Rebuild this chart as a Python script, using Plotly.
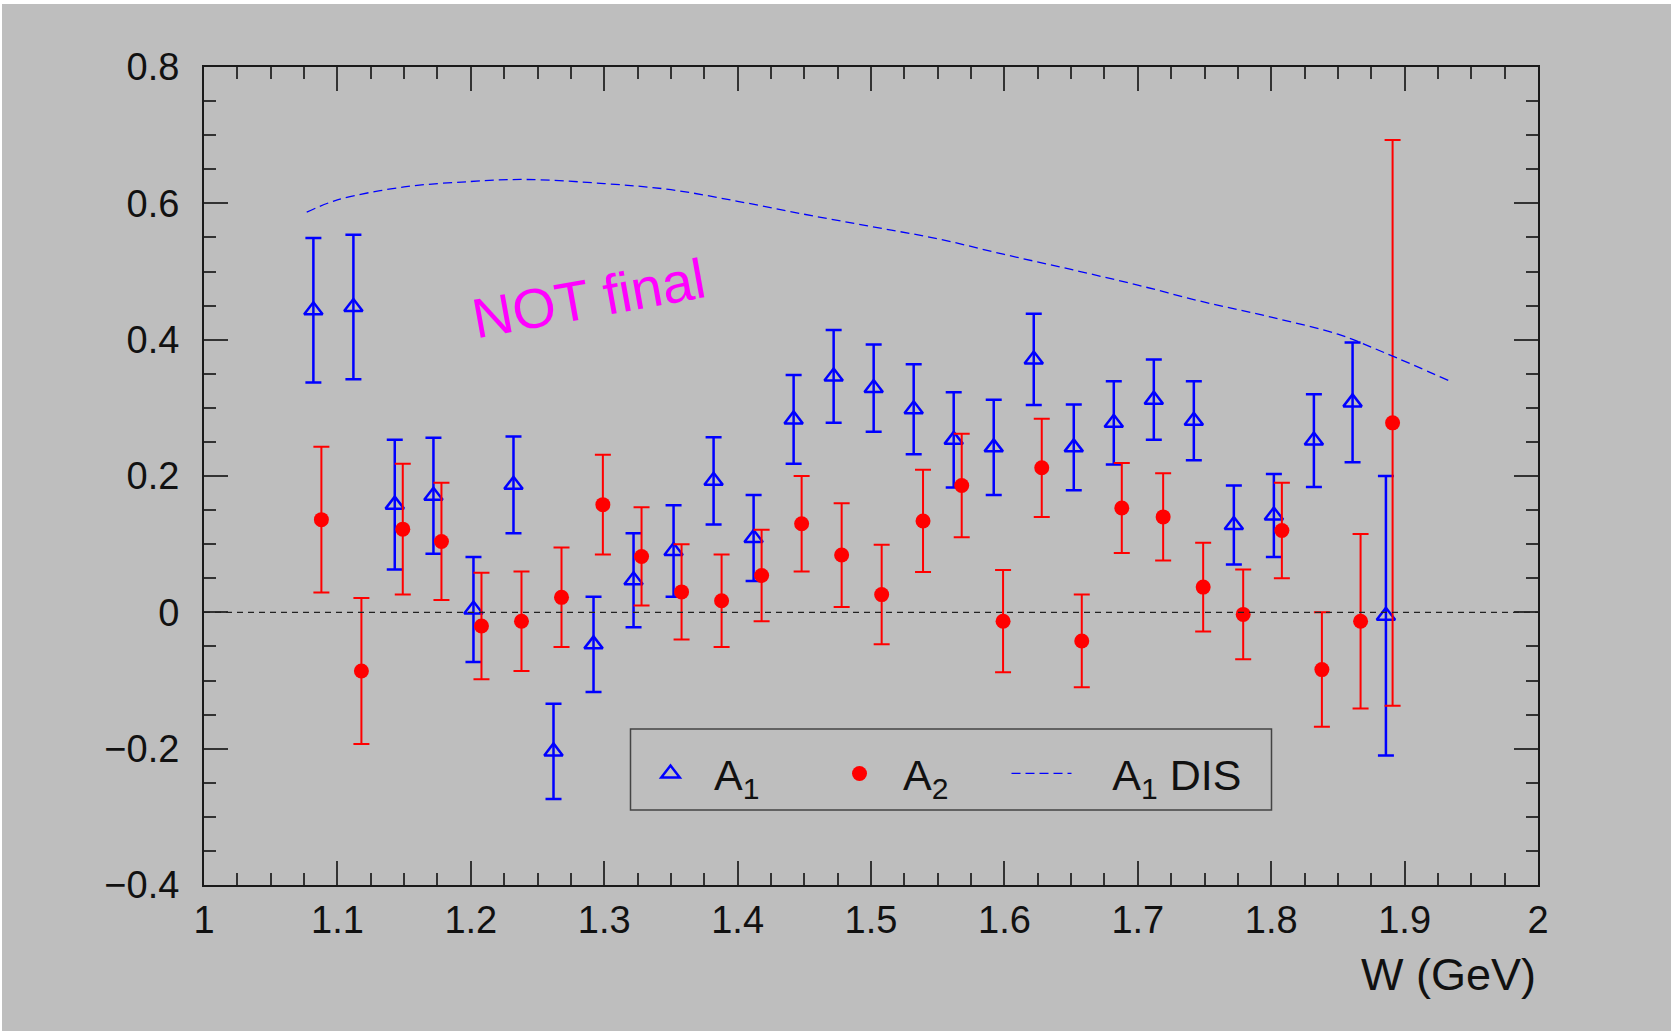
import plotly.graph_objects as go

# ---------------- data ----------------
a1_w = [1.082, 1.112, 1.143, 1.172, 1.202, 1.232, 1.262, 1.292, 1.322, 1.352,
        1.382, 1.412, 1.442, 1.472, 1.502, 1.532, 1.562, 1.592, 1.622, 1.652,
        1.682, 1.712, 1.742, 1.772, 1.802, 1.832, 1.861, 1.886]
a1_val = [0.443, 0.448, 0.158, 0.171, 0.004, 0.187, -0.204, -0.047, 0.047, 0.090,
          0.193, 0.109, 0.283, 0.346, 0.329, 0.298, 0.253, 0.242, 0.371, 0.242,
          0.278, 0.312, 0.281, 0.128, 0.142, 0.252, 0.308, -0.005]
a1_err = [0.106, 0.106, 0.095, 0.085, 0.077, 0.071, 0.070, 0.070, 0.069, 0.067,
          0.064, 0.063, 0.065, 0.068, 0.064, 0.066, 0.070, 0.070, 0.067, 0.063,
          0.061, 0.059, 0.058, 0.058, 0.061, 0.068, 0.088, 0.205]

a2_w = [1.088, 1.118, 1.149, 1.178, 1.208, 1.238, 1.268, 1.299, 1.328, 1.358,
        1.388, 1.418, 1.448, 1.478, 1.508, 1.539, 1.568, 1.599, 1.628, 1.658,
        1.688, 1.719, 1.749, 1.779, 1.808, 1.838, 1.867, 1.891]
a2_val = [0.136, -0.086, 0.122, 0.104, -0.020, -0.013, 0.022, 0.158, 0.082, 0.030,
          0.017, 0.054, 0.130, 0.084, 0.026, 0.134, 0.186, -0.013, 0.212, -0.042,
          0.153, 0.140, 0.037, -0.003, 0.120, -0.084, -0.013, 0.278]
a2_err = [0.107, 0.107, 0.096, 0.086, 0.078, 0.073, 0.073, 0.073, 0.072, 0.070,
          0.068, 0.067, 0.070, 0.076, 0.073, 0.075, 0.076, 0.075, 0.072, 0.068,
          0.066, 0.064, 0.065, 0.066, 0.070, 0.084, 0.128, 0.415]

dis_w = [1.077, 1.10, 1.15, 1.20, 1.24, 1.30, 1.35, 1.40, 1.45, 1.50,
         1.55, 1.60, 1.65, 1.70, 1.75, 1.80, 1.85, 1.886, 1.933]
dis_val = [0.587, 0.605, 0.624, 0.632, 0.635, 0.629, 0.620, 0.603, 0.584, 0.566,
           0.548, 0.525, 0.503, 0.480, 0.455, 0.433, 0.408, 0.380, 0.340]

x_range = [1, 2]
y_range = [-0.4, 0.8]

# ---------------- styling ----------------
BG = "#bebebe"
FONT = "Liberation Sans"
W, H = 1671, 1031
ML, MR, MT, MB = 204, 133, 67, 146
PW = W - ML - MR
PH = H - MT - MB
NB = "\u00a0"
TS = "\u2009"

fig = go.Figure()

fig.add_trace(go.Scatter(
    x=a1_w, y=a1_val, mode="markers", name=TS + "A<sub>1</sub>",
    marker=dict(symbol="triangle-up-open", size=16, color="#0000ff",
                line=dict(width=2.5, color="#0000ff")),
    error_y=dict(type="data", array=a1_err, color="#0000ff", thickness=2.5, width=8),
))
fig.add_trace(go.Scatter(
    x=a2_w, y=a2_val, mode="markers", name=TS + "A<sub>2</sub>",
    marker=dict(symbol="circle", size=15, color="#ff0000"),
    error_y=dict(type="data", array=a2_err, color="#ff0000", thickness=2, width=8),
))
fig.add_trace(go.Scatter(
    x=dis_w, y=dis_val, mode="lines", name=NB * 3 + "A<sub>1</sub> DIS",
    legend="legend2",
    line=dict(color="#0000ff", width=1.3, dash="9px,5px", shape="spline"),
))

axis_common = dict(
    showline=True, linecolor="#1a1a1a", linewidth=2, mirror="allticks",
    ticks="inside", tickcolor="#333333", tickwidth=1.5, ticklen=24,
    showgrid=False, zeroline=False,
    tickfont=dict(family=FONT, size=38, color="#111111"),
)

fig.update_xaxes(range=x_range, dtick=0.1, tick0=1,
                 minor=dict(ticks="inside", ticklen=12, dtick=0.025, tick0=1,
                            tickcolor="#333333", tickwidth=1.5, showgrid=False),
                 **axis_common)
fig.update_yaxes(range=y_range, dtick=0.2, tick0=0, ticklabelstandoff=15,
                 minor=dict(ticks="inside", ticklen=12, dtick=0.05, tick0=0,
                            tickcolor="#333333", tickwidth=1.5, showgrid=False),
                 **axis_common)

# white thin border at the top/left of the picture, gray canvas elsewhere
fig.add_shape(type="rect", xref="paper", yref="paper", layer="below",
              x0=(2 - ML) / PW, x1=1.2, y0=-0.3, y1=(H - MB - 4) / PH,
              fillcolor=BG, line=dict(width=0))

# zero line
fig.add_shape(type="line", xref="x", yref="y", x0=x_range[0], x1=x_range[1], y0=0, y1=0,
              line=dict(color="#222222", width=1.2, dash="6px,5px"))

# legend frame
fig.add_shape(type="rect", xref="paper", yref="paper",
              x0=(630.5 - ML) / PW, x1=(1271.5 - ML) / PW,
              y0=(H - MB - 810) / PH, y1=(H - MB - 729) / PH,
              line=dict(color="#444444", width=1.5), fillcolor="rgba(0,0,0,0)")

fig.add_annotation(text="NOT final", x=1.288, y=0.46, xref="x", yref="y",
                   showarrow=False, textangle=-10.25,
                   font=dict(family=FONT, size=56, color="#ff00ff"))

fig.add_annotation(text="W (GeV)", x=1.0, y=(H - MB - 975) / PH, xref="paper", yref="paper",
                   xanchor="right", yanchor="middle", showarrow=False,
                   font=dict(family=FONT, size=45, color="#111111"))

legend_common = dict(orientation="h", xanchor="left", yanchor="top",
                     bgcolor="rgba(0,0,0,0)", borderwidth=0,
                     font=dict(family=FONT, size=43, color="#111111"),
                     itemwidth=60)

fig.update_layout(
    width=W, height=H,
    margin=dict(l=ML, r=MR, t=MT, b=MB, autoexpand=False),
    paper_bgcolor="white", plot_bgcolor=BG,
    showlegend=True,
    legend=dict(x=(635.5 - ML) / PW, y=(H - MB - 739) / PH,
                entrywidth=114, entrywidthmode="pixels", **legend_common),
    legend2=dict(x=(1006.5 - ML) / PW, y=(H - MB - 739) / PH, **legend_common),
    font=dict(family=FONT),
)

fig.write_html("out.html")
